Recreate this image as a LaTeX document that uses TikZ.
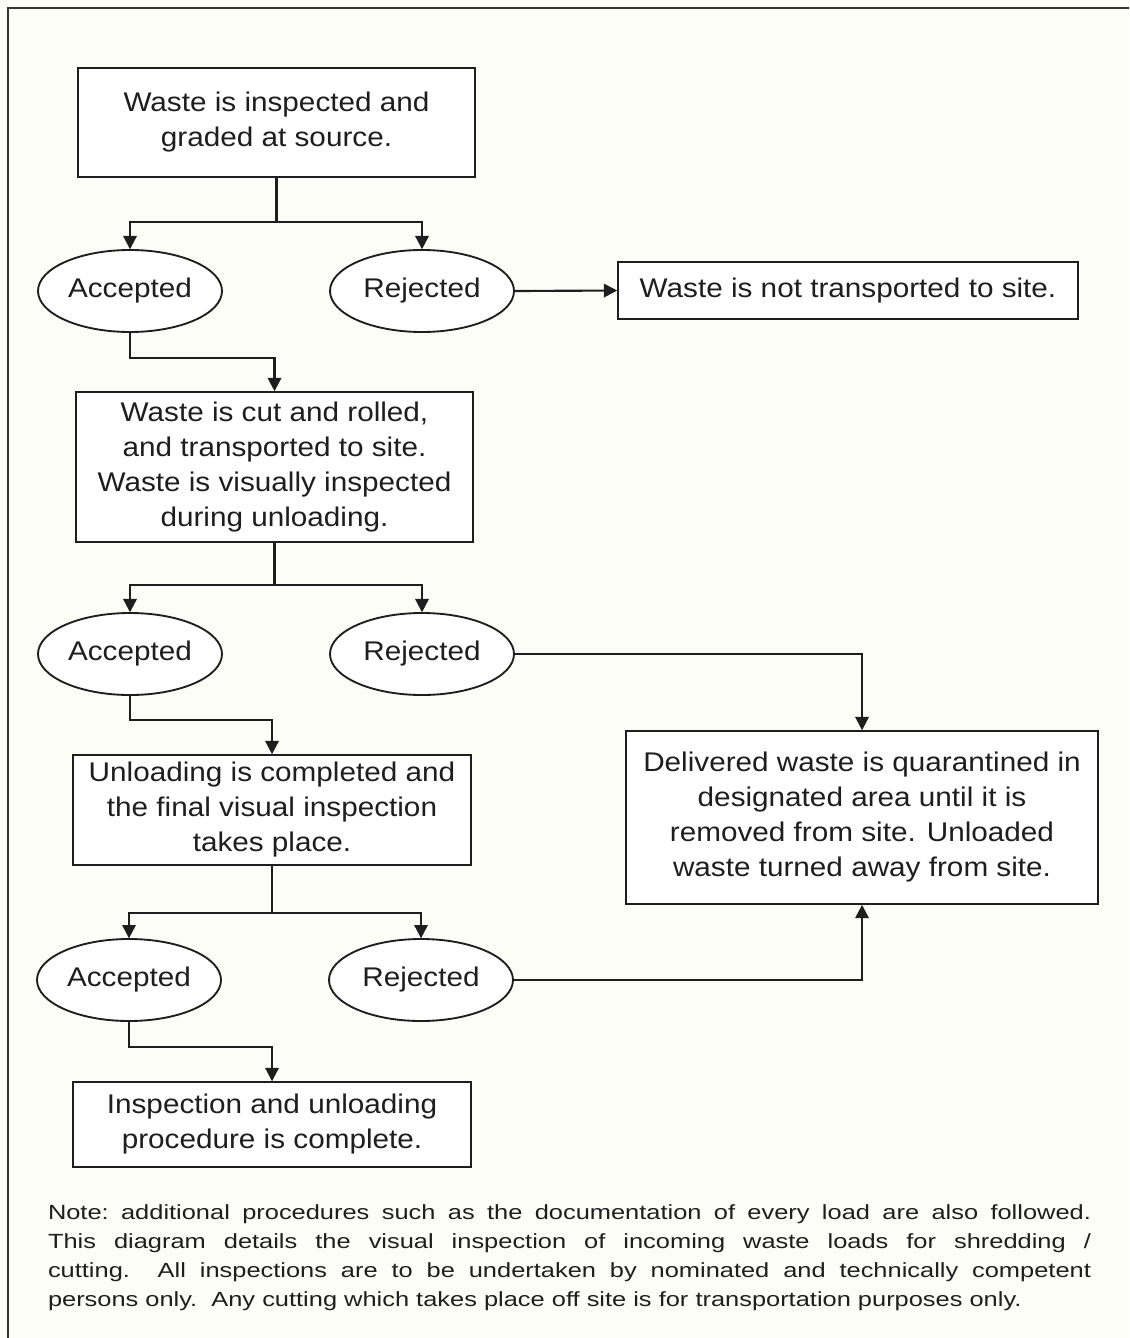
\documentclass[tikz,border=0pt]{standalone}
\usepackage{fontspec}
\setmainfont{Liberation Sans}
\newfontfamily\fonteflux[FakeStretch=1.1]{Liberation Sans}
\newfontfamily\fontenota[FakeStretch=1.24]{Liberation Sans}
\usetikzlibrary{shapes.geometric, arrows.meta}

\definecolor{papel}{RGB}{253,253,247}
\definecolor{tinta}{RGB}{30,30,30}

\begin{document}
\begin{tikzpicture}[
    x=1pt, y=-1pt,
    scale=0.75, transform shape,
    % Process boxes
    etapa/.style={
        draw=tinta, line width=1.5pt, fill=white, text=tinta,
        font=\fonteflux\fontsize{27}{35}\selectfont, align=center,
        inner sep=0pt
    },
    % Accepted / rejected ovals
    decisao/.style={
        draw=tinta, line width=1.4pt, ellipse, fill=white, text=tinta,
        font=\fonteflux\fontsize{27}{35}\selectfont,
        minimum width=184pt, minimum height=82pt, inner sep=0pt
    },
    traco/.style={draw=tinta, line width=1.6pt},
    seta/.style={draw=tinta, line width=1.6pt,
        -{Triangle[width=10pt, length=10pt]}}
]

% ---- PAGE AND FRAME ----
\useasboundingbox (0,0) rectangle (1129,1338);
\clip (0,0) rectangle (1129,1338);
\fill[papel] (0,0) rectangle (1129,1338);
\draw[draw=tinta!90, line width=2pt] (8,8) rectangle (1160,1370);

% ---- STAGE 1: AT SOURCE ----
\node[etapa, minimum width=397pt, minimum height=109pt] (fonte) at (276.5, 122.5)
    {Waste is inspected and\\graded at source.};

\node[decisao] (ac1) at (130, 291) {Accepted};
\node[decisao] (rj1) at (422, 291) {Rejected};
\node[etapa, minimum width=460pt, minimum height=57pt] (naotransp) at (848, 290.5)
    {Waste is not transported to site.};

\coordinate (bif1) at (276.5, 222);
\draw[traco] (fonte.south) -- (bif1);
\draw[seta]  (bif1) -| (ac1.north);
\draw[seta]  (bif1) -| (rj1.north);
\draw[seta]  (rj1.east) -- (naotransp.west);

% ---- STAGE 2: TRANSPORT AND UNLOADING ----
\node[etapa, minimum width=397pt, minimum height=150pt] (transp) at (274.5, 467)
    {Waste is cut and rolled,\\and transported to site.\\Waste is visually inspected\\during unloading.};

\coordinate (meio1) at (274.5, 358);
\draw[seta] (ac1.south) |- (meio1) -- (transp.north);

\node[decisao] (ac2) at (130, 654) {Accepted};
\node[decisao] (rj2) at (422, 654) {Rejected};

\coordinate (bif2) at (274.5, 585);
\draw[traco] (transp.south) -- (bif2);
\draw[seta]  (bif2) -| (ac2.north);
\draw[seta]  (bif2) -| (rj2.north);

% ---- QUARANTINE (right side) ----
\node[etapa, minimum width=472pt, minimum height=173pt] (quarent) at (862, 817.5)
    {Delivered waste is quarantined in\\designated area until it is\\removed from site. Unloaded\\waste turned away from site.};

\draw[seta] (rj2.east) -| (quarent.north);

% ---- STAGE 3: FINAL INSPECTION ----
\node[etapa, minimum width=398pt, minimum height=110pt] (descarga) at (272, 810)
    {Unloading is completed and\\the final visual inspection\\takes place.};

\coordinate (meio2) at (272, 720);
\draw[seta] (ac2.south) |- (meio2) -- (descarga.north);

\node[decisao] (ac3) at (129, 980) {Accepted};
\node[decisao] (rj3) at (421, 980) {Rejected};

\coordinate (bif3) at (272, 913);
\draw[traco] (descarga.south) -- (bif3);
\draw[seta]  (bif3) -| (ac3.north);
\draw[seta]  (bif3) -| (rj3.north);
\draw[seta]  (rj3.east) -| (quarent.south);

% ---- END ----
\node[etapa, minimum width=398pt, minimum height=85pt] (fim) at (272, 1124.5)
    {Inspection and unloading\\procedure is complete.};

\coordinate (meio3) at (272, 1047);
\draw[seta] (ac3.south) |- (meio3) -- (fim.north);

% ---- NOTE ----
\node[text width=1043pt, align=justify, inner sep=0pt, text=tinta,
      font=\fontenota\fontsize{20.5}{29}\selectfont\frenchspacing] (nota) at (569.5, 1258)
    {Note: additional procedures such as the documentation of every load are also followed.\linebreak
     This diagram details the visual inspection of incoming waste loads for shredding /\linebreak
     cutting.\ \ All inspections are to be undertaken by nominated and technically competent\linebreak
     persons only.\ \ Any cutting which takes place off site is for transportation purposes only.};

\end{tikzpicture}
\end{document}
